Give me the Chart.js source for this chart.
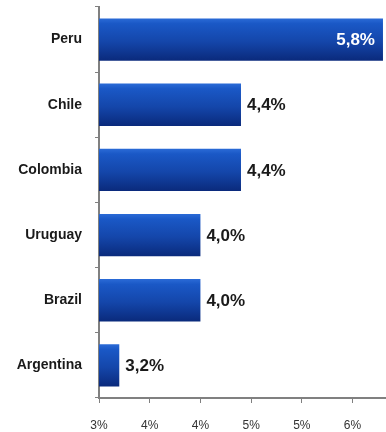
<!DOCTYPE html>
<html>
<head>
<meta charset="utf-8">
<script src="https://cdn.jsdelivr.net/npm/chart.js@4/dist/chart.umd.min.js"></script>
<style>
  html, body { margin: 0; padding: 0; background: #fff; }
  #wrap { width: 386px; height: 432px; }
</style>
</head>
<body>
<div id="wrap"><canvas id="growth"></canvas></div>
<script>
// growth by country, in percent
var countries = ['Peru', 'Chile', 'Colombia', 'Uruguay', 'Brazil', 'Argentina'];
var growth = [5.8, 4.4, 4.4, 4.0, 4.0, 3.2];

// x axis ticks: 3 to 5.5 every 0.5, printed rounded like the spreadsheet did
var xMin = 3;
var xMax = 5.82;
var xStep = 0.5;

// vertical gradient for each bar, lighter on top
function barFill(context) {
    var chart = context.chart;
    var y = chart.scales.y;
    var mid = y ? y.getPixelForValue(context.dataIndex) : NaN;
    if (!isFinite(mid)) return '#1448b0';
    var g = chart.ctx.createLinearGradient(0, mid - 21, 0, mid + 21);
    g.addColorStop(0, '#2a6ad6');
    g.addColorStop(0.12, '#1a58c6');
    g.addColorStop(0.55, '#1446aa');
    g.addColorStop(1, '#0a2a7c');
    return g;
}

// value labels: outside the bar end, except the longest one which sits inside in white
var valueLabels = {
    id: 'valueLabels',
    afterDatasetsDraw: function(chart) {
        var ctx = chart.ctx;
        var meta = chart.getDatasetMeta(0);
        ctx.save();
        ctx.font = 'bold 17px "Liberation Sans", Arial, sans-serif';
        ctx.textBaseline = 'middle';
        meta.data.forEach(function(bar, i) {
            var v = growth[i];
            var text = v.toFixed(1).replace('.', ',') + '%';
            if (v === Math.max.apply(null, growth)) {
                ctx.fillStyle = '#ffffff';
                ctx.textAlign = 'right';
                ctx.fillText(text, bar.x - 8, bar.y + 1);
            } else {
                ctx.fillStyle = '#1a1a1a';
                ctx.textAlign = 'left';
                ctx.fillText(text, bar.x + 6, bar.y + 1);
            }
        });
        ctx.restore();
    }
};

var chart = new Chart(document.getElementById('growth'), {
    type: 'bar',
    data: {
        labels: countries,
        datasets: [{
            data: growth,
            backgroundColor: barFill,
            borderWidth: 0,
            barPercentage: 0.65,
            categoryPercentage: 1
        }]
    },
    plugins: [valueLabels],
    options: {
        indexAxis: 'y',
        responsive: true,
        maintainAspectRatio: false,
        animation: false,
        layout: { padding: { top: 7, right: 1, left: 0, bottom: 0 } },
        plugins: {
            legend: { display: false },
            tooltip: { enabled: false }
        },
        scales: {
            x: {
                min: xMin,
                max: xMax,
                afterFit: function(scale) { scale.height = 34; },
                border: { display: true, color: '#808080', width: 2 },
                grid: {
                    drawOnChartArea: false,
                    drawTicks: true,
                    tickLength: 5,
                    color: '#808080'
                },
                ticks: {
                    stepSize: xStep,
                    includeBounds: false,
                    maxRotation: 0,
                    padding: 15,
                    color: '#333333',
                    font: { family: '"Liberation Sans", Arial, sans-serif', size: 12 },
                    callback: function(v) { return Math.round(v) + '%'; }
                }
            },
            y: {
                afterFit: function(scale) {
                    scale.width = 99;
                    // no extra room above/below for the category labels
                    scale.paddingTop = 0;
                    scale.paddingBottom = 0;
                },
                border: { display: true, color: '#808080', width: 2 },
                grid: {
                    offset: true,
                    drawOnChartArea: false,
                    drawTicks: true,
                    tickLength: 4,
                    color: '#808080'
                },
                ticks: {
                    padding: 13,
                    color: '#1a1a1a',
                    font: { family: '"Liberation Sans", Arial, sans-serif', size: 14, weight: 'bold' }
                }
            }
        }
    }
});
// redraw once the scales exist so the gradients get real pixel positions
chart.update();
</script>
</body>
</html>
